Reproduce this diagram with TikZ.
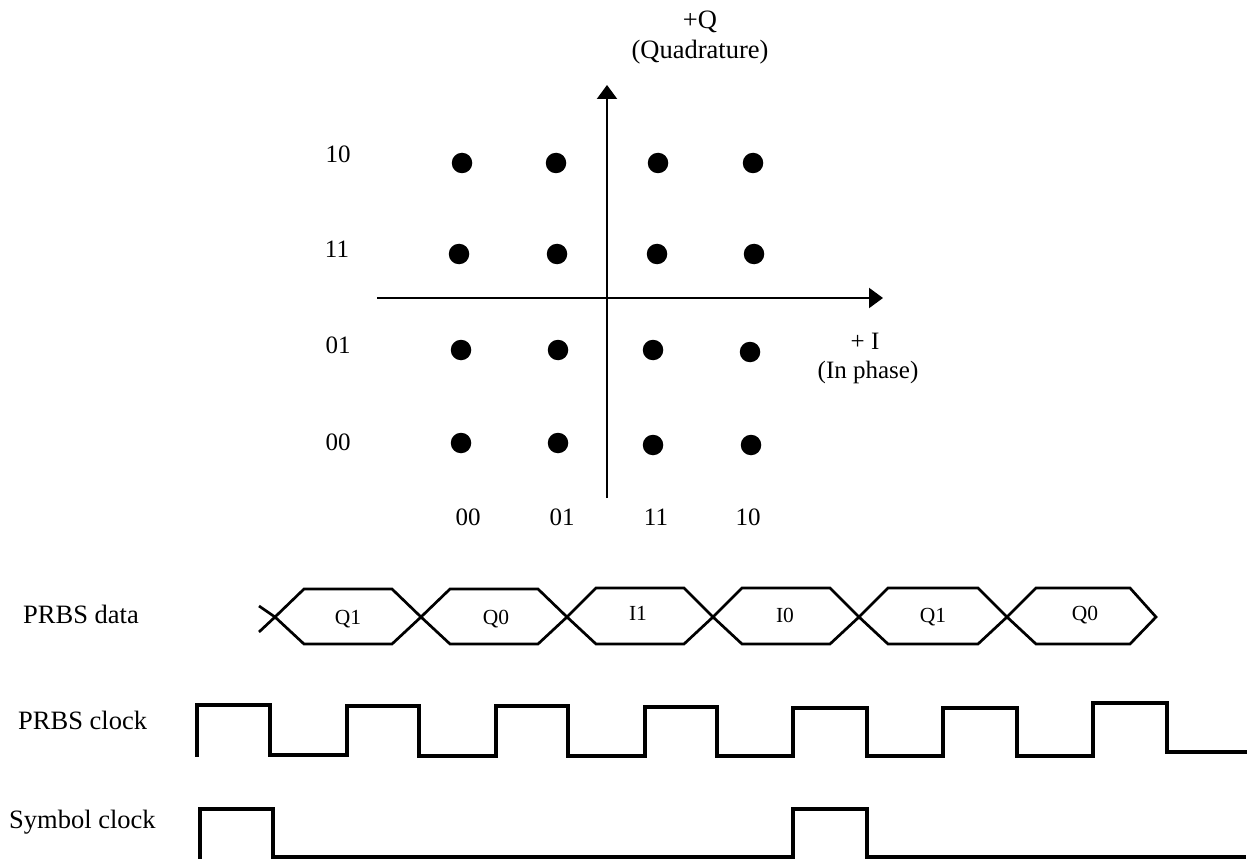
\documentclass[tikz,border=0pt]{standalone}
\usepackage{fontspec}
\setmainfont{Liberation Serif}
\usetikzlibrary{arrows.meta}
\begin{document}
\begin{tikzpicture}[x=1pt,y=-1pt,
  lbl/.style={font=\fontsize{25}{30}\selectfont, inner sep=0pt, anchor=base},
  biglbl/.style={font=\fontsize{26.5}{31}\selectfont, inner sep=0pt, anchor=base},
  lblw/.style={font=\fontsize{26.5}{31}\selectfont, inner sep=0pt, anchor=base west},
  hexlbl/.style={font=\fontsize{21.5}{25}\selectfont, inner sep=0pt, anchor=base},
  dot/.style={circle, fill=black, minimum size=20.5pt, inner sep=0pt},
  axis/.style={line width=2.2pt, -{Triangle[length=14pt,width=20pt]}},
  wave/.style={line width=3.3pt, line join=miter, line cap=rect},
  datawave/.style={line width=2.7pt, line join=miter}]
\useasboundingbox (0,0) rectangle (1253,861);

% ---------- constellation axes ----------
\coordinate (qbot) at (607,498);
\coordinate (qtop) at (607,85);
\coordinate (ileft) at (377,298);
\coordinate (iright) at (883,298);
\draw[axis] (qbot) -- (qtop);
\draw[axis] (ileft) -- (iright);

\node[biglbl] (qlab1) at (700,29) {+Q};
\node[biglbl] (qlab2) at (700,59) {(Quadrature)};
\node[lbl] (ilab1) at (865,349) {+ I};
\node[lbl] (ilab2) at (868,378) {(In phase)};

% ---------- dots ----------
\node[dot] (d11) at (462,163) {};
\node[dot] (d12) at (556,163) {};
\node[dot] (d13) at (658,163) {};
\node[dot] (d14) at (753,163) {};
\node[dot] (d21) at (459,254) {};
\node[dot] (d22) at (557,254) {};
\node[dot] (d23) at (657,254) {};
\node[dot] (d24) at (754,254) {};
\node[dot] (d31) at (461,350) {};
\node[dot] (d32) at (558,350) {};
\node[dot] (d33) at (653,350) {};
\node[dot] (d34) at (750,352) {};
\node[dot] (d41) at (461,443) {};
\node[dot] (d42) at (558,443) {};
\node[dot] (d43) at (653,445) {};
\node[dot] (d44) at (751,445) {};

% ---------- row / column labels ----------
\node[lbl] (r1) at (338,163) {10};
\node[lbl] (r2) at (337,258) {11};
\node[lbl] (r3) at (338,353) {01};
\node[lbl] (r4) at (338,450) {00};
\node[lbl] (c1) at (468,525) {00};
\node[lbl] (c2) at (562,525) {01};
\node[lbl] (c3) at (656,525) {11};
\node[lbl] (c4) at (748,525) {10};

% ---------- left labels ----------
\node[lblw] (ldata) at (23,623) {PRBS data};
\node[lblw] (lclk) at (18,729) {PRBS clock};
\node[lblw] (lsym) at (9,828) {Symbol clock};

% ---------- PRBS data ----------
\draw[datawave] (259,606) -- (275,617) -- (304,589) -- (392,589) -- (421,617) -- (392,644) -- (304,644) -- (275,617) -- (259,632);
\draw[datawave] (421,617) -- (450,589) -- (538,589) -- (567,617) -- (538,644) -- (450,644) -- cycle;
\draw[datawave] (567,617) -- (596,588) -- (684,588) -- (713,617) -- (684,644) -- (596,644) -- cycle;
\draw[datawave] (713,617) -- (742,588) -- (830,588) -- (859,617) -- (830,644) -- (742,644) -- cycle;
\draw[datawave] (859,617) -- (888,588) -- (978,588) -- (1007,617) -- (978,644) -- (888,644) -- cycle;
\draw[datawave] (1007,617) -- (1036,588) -- (1130,588) -- (1156,617) -- (1130,644) -- (1036,644) -- cycle;

\node[hexlbl] (h1) at (348,624) {Q1};
\node[hexlbl] (h2) at (496,624) {Q0};
\node[hexlbl] (h3) at (638,620) {I1};
\node[hexlbl] (h4) at (785,622) {I0};
\node[hexlbl] (h5) at (933,622) {Q1};
\node[hexlbl] (h6) at (1085,620) {Q0};

% ---------- PRBS clock ----------
\draw[wave] (197,755) -- (197,705) -- (270,705) -- (270,755) -- (347,755) -- (347,706)
  -- (419,706) -- (419,756) -- (496,756) -- (496,706) -- (568,706) -- (568,756)
  -- (645,756) -- (645,707) -- (717,707) -- (717,756) -- (793,756) -- (793,708)
  -- (867,708) -- (867,756) -- (943,756) -- (943,708) -- (1017,708) -- (1017,756)
  -- (1093,756) -- (1093,703) -- (1167,703) -- (1167,752) -- (1245,752);

% ---------- Symbol clock ----------
\draw[wave] (200,857) -- (200,809) -- (273,809) -- (273,857) -- (793,857) -- (793,809)
  -- (867,809) -- (867,857) -- (1244,857);
\end{tikzpicture}
\end{document}
